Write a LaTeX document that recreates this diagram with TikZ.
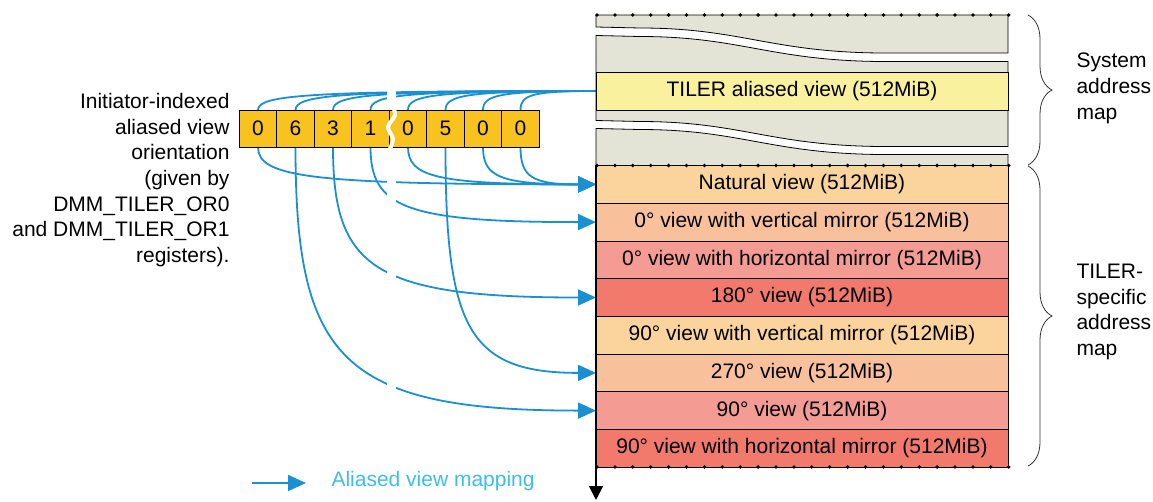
\documentclass[tikz,border=0pt]{standalone}
\usepackage{fontspec}
\setmainfont{Liberation Sans}
\usetikzlibrary{arrows.meta,positioning,backgrounds,calc,decorations.pathreplacing}

\definecolor{mapblue}{HTML}{1A90D2}
\definecolor{legblue}{HTML}{3DBEEA}
\definecolor{regyel}{HTML}{F9C31F}
\definecolor{sysgrey}{HTML}{E3E4D5}
\definecolor{aliasyel}{HTML}{FAF19F}
\definecolor{tOrange}{HTML}{FAD49C}
\definecolor{tPeach}{HTML}{F8C19B}
\definecolor{tPink}{HTML}{F49B93}
\definecolor{tRed}{HTML}{F27A6D}

\begin{document}
\begin{tikzpicture}[
  x=1pt, y=-1pt,
  font=\fontsize{21}{25.7}\selectfont,
  cell/.style={draw, fill=regyel, line width=0.8pt, minimum width=37.5pt, minimum height=37pt, inner sep=0pt, outer sep=0pt},
  row/.style={draw, line width=0.8pt, minimum width=412pt, minimum height=37.7pt, inner sep=0pt, outer sep=0pt},
  blk/.style={draw, fill=sysgrey, line width=0.8pt},
  mapline/.style={draw=mapblue, line width=1.8pt},
  arr/.style={mapline, -{Triangle[length=18pt,width=16pt]}},
  curl/.style={to path={.. controls ($(\tikztostart)!0.8!(\tikztostart|-\tikztotarget)$) and ($(\tikztotarget)!0.85!(\tikztostart|-\tikztotarget)$) .. (\tikztotarget)}},
  dots/.style={line width=3.8pt, line cap=round, dash pattern=on 0pt off 17.9pt},
  brc/.style={decorate, decoration={brace, amplitude=24pt}, line width=0.8pt, draw=black!80}
]
\useasboundingbox (0,0) rectangle (1153,501);

% system address map
\draw[blk] (596,15) -- (1008,15) -- (1008,53) -- (880,53) .. controls (770,52) and (740,28) .. (640,28) -- (596,27) -- cycle;
\draw[blk] (596,35.5) -- (640,36.5) .. controls (740,36.5) and (770,60.5) .. (880,61.5) -- (1008,61.5) -- (1008,146.5) -- (880,146.5) .. controls (770,145.5) and (740,121.5) .. (640,121.5) -- (596,120.5) -- cycle;
\draw[blk] (596,128.5) -- (640,129.5) .. controls (740,129.5) and (770,153.5) .. (880,154.5) -- (1008,154.5) -- (1008,165.5) -- (596,165.5) -- cycle;
\node[row, fill=aliasyel, minimum height=38pt] (alias) at (802,91) {TILER aliased view (512MiB)};

% TILER-specific address map
\node[row, fill=tOrange] (nat) at (802,184.4) {Natural view (512MiB)};
\node[row, fill=tPeach, below=0pt of nat] (v0) {0° view with vertical mirror (512MiB)};
\node[row, fill=tPink, below=0pt of v0] (h0) {0° view with horizontal mirror (512MiB)};
\node[row, fill=tRed, below=0pt of h0] (r180) {180° view (512MiB)};
\node[row, fill=tOrange, below=0pt of r180] (v90) {90° view with vertical mirror (512MiB)};
\node[row, fill=tPeach, below=0pt of v90] (r270) {270° view (512MiB)};
\node[row, fill=tPink, below=0pt of r270] (r90) {90° view (512MiB)};
\node[row, fill=tRed, below=0pt of r90] (h90) {90° view with horizontal mirror (512MiB)};

\draw[dots] (597,15) -- (1012,15);
\draw[dots] (597,165.5) -- (1012,165.5);
\draw[dots] (597,467) -- (1012,467);
\coordinate (axend) at (596,500);
\draw[line width=1.8pt, -{Triangle[length=14pt,width=14pt]}] (nat.north west) -- (axend);

\draw[brc] (1028,15) -- (1028,165);
\draw[brc] (1028,166) -- (1028,466);
\node[anchor=west, align=left] (sys) at (1073,88.5) {System\\address\\map};
\node[anchor=west, align=left] (tsp) at (1073,312) {TILER-\\specific\\address\\map};

% orientation register
\node[cell] (c1) at (258,128.5) {0};
\node[cell, right=0pt of c1] (c2) {6};
\node[cell, right=0pt of c2] (c3) {3};
\node[cell, right=0pt of c3] (c4) {1};
\node[cell, right=0pt of c4] (c5) {0};
\node[cell, right=0pt of c5] (c6) {5};
\node[cell, right=0pt of c6] (c7) {0};
\node[cell, right=0pt of c7] (c8) {0};
\draw[white, line width=4pt, line cap=round] plot[smooth] coordinates {(392,104) (395,115) (388,127) (393,139) (389,151)};
\node[anchor=east, align=right] (ori) at (233,180) {Initiator-indexed\\aliased view\\orientation\\(given by\\DMM\_TILER\_OR0\\and DMM\_TILER\_OR1\\registers).};

\begin{scope}[on background layer]
\draw[mapline] (c1.north) to[curl] (alias.west);
\draw[mapline] (c2.north) to[curl] (alias.west);
\draw[mapline] (c3.north) to[curl] (alias.west);
\draw[mapline] (c4.north) to[curl] (alias.west);
\draw[mapline] (c5.north) to[curl] (alias.west);
\draw[mapline] (c6.north) to[curl] (alias.west);
\draw[mapline] (c7.north) to[curl] (alias.west);
\draw[mapline] (c8.north) to[curl] (alias.west);
\draw[arr] (c1.south) to[curl] (nat.west);
\draw[arr] (c2.south) to[curl] (r90.west);
\draw[arr] (c3.south) to[curl] (r180.west);
\draw[arr] (c4.south) to[curl] (v0.west);
\draw[arr] (c5.south) to[curl] (nat.west);
\draw[arr] (c6.south) to[curl] (r270.west);
\draw[arr] (c7.south) to[curl] (nat.west);
\draw[arr] (c8.south) to[curl] (nat.west);
% break in the register
\fill[white] (387,84) rectangle (396,425);
\end{scope}

% legend
\coordinate (lga) at (252,483);
\coordinate (lgb) at (306,483);
\draw[arr] (lga) -- (lgb);
\node[anchor=west, text=legblue] (lgt) at (328,481) {Aliased view mapping};
\end{tikzpicture}
\end{document}
